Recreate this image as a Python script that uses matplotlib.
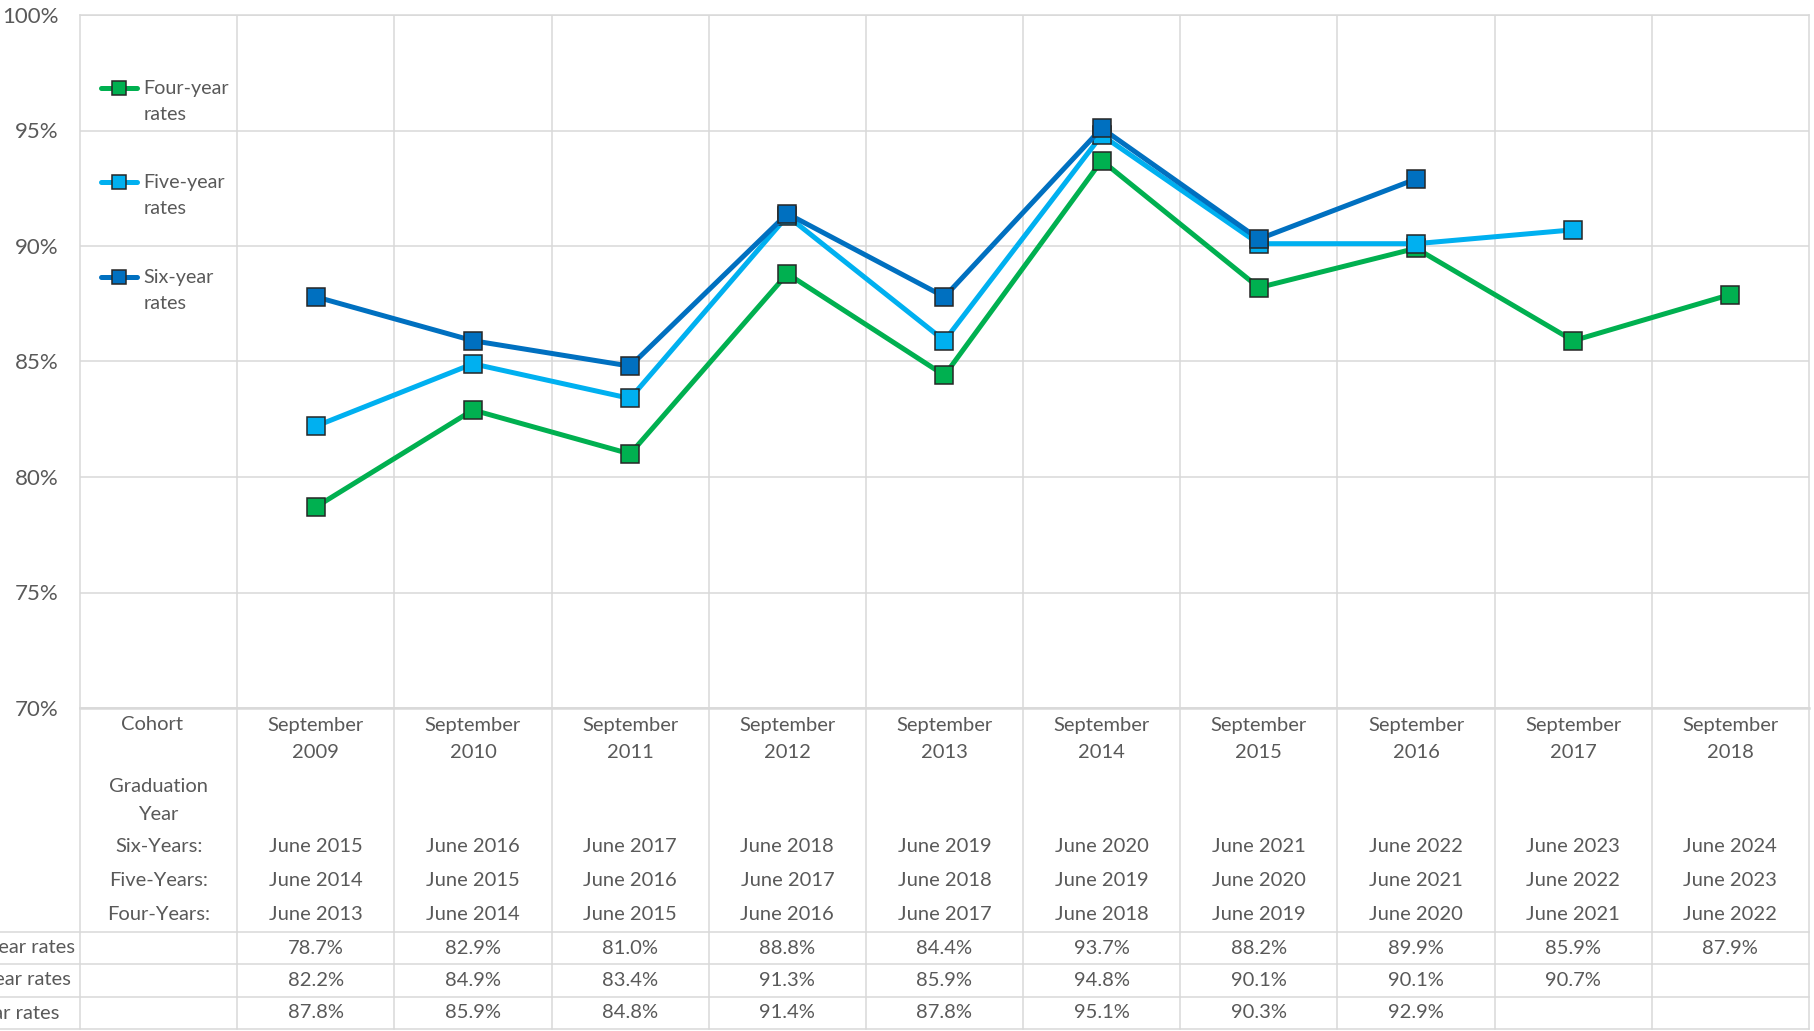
import matplotlib
matplotlib.use("Agg")
import matplotlib.pyplot as plt
import numpy as np
from matplotlib.legend_handler import HandlerLine2D

# ---------------- data ----------------
cohort_years = ["2009", "2010", "2011", "2012", "2013", "2014", "2015", "2016", "2017", "2018"]
six_grad = ["June 2015", "June 2016", "June 2017", "June 2018", "June 2019", "June 2020",
            "June 2021", "June 2022", "June 2023", "June 2024"]
five_grad = ["June 2014", "June 2015", "June 2016", "June 2017", "June 2018", "June 2019",
             "June 2020", "June 2021", "June 2022", "June 2023"]
four_grad = ["June 2013", "June 2014", "June 2015", "June 2016", "June 2017", "June 2018",
             "June 2019", "June 2020", "June 2021", "June 2022"]
four_year = [78.7, 82.9, 81.0, 88.8, 84.4, 93.7, 88.2, 89.9, 85.9, 87.9]
five_year = [82.2, 84.9, 83.4, 91.3, 85.9, 94.8, 90.1, 90.1, 90.7, np.nan]
six_year = [87.8, 85.9, 84.8, 91.4, 87.8, 95.1, 90.3, 92.9, np.nan, np.nan]
y_ticks = [70, 75, 80, 85, 90, 95, 100]

series = [
    ("Four-year rates", four_year, "#00B050"),
    ("Five-year rates", five_year, "#00B0F0"),
    ("Six-year rates", six_year, "#0070C0"),
]

FONT = "Lato"
TXT = "#595959"
GRID = "#D9D9D9"
plt.rcParams["font.family"] = [FONT, "DejaVu Sans"]

W, H = 1815, 1031
fig = plt.figure(figsize=(W / 100, H / 100), dpi=100)
L, R, T, B = 80, 1809, 15, 708
ax = fig.add_axes([L / W, 1 - B / H, (R - L) / W, (B - T) / H])

x = np.arange(1, len(cohort_years) + 1)
handles = []
for name, vals, col in series:
    h, = ax.plot(x, vals, color=col, lw=3.6, marker="s", ms=13.5,
                 mfc=col, mec="#262626", mew=1.1, label=name.replace(" rates", "\nrates"),
                 solid_capstyle="round", zorder=3)
    handles.append(h)

ax.set_xlim(-0.5, len(cohort_years) + 0.5)
ax.set_ylim(70, 100)
ax.set_yticks(y_ticks)
ax.set_yticklabels([f"{v}%" for v in y_ticks], fontsize=16, color=TXT)
ax.set_xticks([])
ax.set_xticks(np.arange(0.5, len(cohort_years), 1), minor=True)
ax.tick_params(axis="both", which="both", length=0, pad=15.5)
ax.grid(True, axis="y", color=GRID, lw=1.1)
ax.grid(True, axis="x", which="minor", color=GRID, lw=1.1)
ax.set_axisbelow(True)
for s in ax.spines.values():
    s.set_color(GRID)
    s.set_linewidth(1.1)
ax.spines["bottom"].set_linewidth(1.8)


class UpHandler(HandlerLine2D):
    def __init__(self, shift, **kw):
        super().__init__(**kw)
        self.shift = shift

    def create_artists(self, legend, orig_handle, xdescent, ydescent, width, height, fontsize, trans):
        return super().create_artists(legend, orig_handle, xdescent, ydescent - 2 * self.shift,
                                      width, height, fontsize, trans)


leg = fig.legend(handles=handles, loc="upper left",
                 bbox_to_anchor=(101 / W, 1 - 80 / H), frameon=False,
                 prop={"family": FONT, "size": 14.2}, labelcolor=TXT,
                 handlelength=1.85, handletextpad=0.3, labelspacing=2.6,
                 borderpad=0, borderaxespad=0,
                 handler_map={h: UpHandler(9.9, numpoints=1) for h in handles})
for t in leg.get_texts():
    t.set_linespacing(1.65)
for lh in leg.legend_handles:
    lh.set_markersize(10)

# ---------------- data table ----------------
TH = H - B
tax = fig.add_axes([L / W, 0, (R - L) / W, TH / H])
tax.set_xlim(-0.5, len(cohort_years) + 0.5)
tax.set_ylim(TH, 0)
tax.axis("off")

bottom = 321
for b in np.arange(-0.5, len(cohort_years) + 1, 1):
    tax.plot([b, b], [0, bottom], color=GRID, lw=1.1, clip_on=False)
for yy in [224, 256, 289, bottom]:
    tax.plot([-0.5 - 80 / 157.2, len(cohort_years) + 0.5], [yy, yy], color=GRID, lw=1.1, clip_on=False)

fs = 14.5
kw = dict(ha="center", va="center", fontsize=fs, color=TXT)
tax.text(-0.045, 17, "Cohort", **kw)
tax.text(0, 78, "Graduation", **kw)
tax.text(0, 106, "Year", **kw)
tax.text(0, 139, "Six-Years:", **kw)
tax.text(0, 172, "Five-Years:", **kw)
tax.text(0, 206, "Four-Years:", **kw)
for i, yr in enumerate(cohort_years):
    xi = i + 1
    tax.text(xi, 17, "September", **kw)
    tax.text(xi, 44, yr, **kw)
    tax.text(xi, 139, six_grad[i], **kw)
    tax.text(xi, 172, five_grad[i], **kw)
    tax.text(xi, 206, four_grad[i], **kw)

row_y = [240, 272, 305]
# row labels share a common left edge (off-canvas); the longest ends just left of the table
fig.canvas.draw()
renderer = fig.canvas.get_renderer()
probe = fig.text(75 / W, 0.5, series[0][0], ha="right", va="center", fontsize=fs)
left_px = probe.get_window_extent(renderer).x0
probe.remove()
for (name, vals, col), ry in zip(series, row_y):
    ypx = 1 - (B + ry) / H
    fig.text(left_px / W, ypx, name, ha="left", va="center", fontsize=fs, color=TXT)
    for i, v in enumerate(vals):
        if not np.isnan(v):
            tax.text(i + 1, ry, f"{v:.1f}%", **kw)

fig.savefig("out.png", dpi=100)
